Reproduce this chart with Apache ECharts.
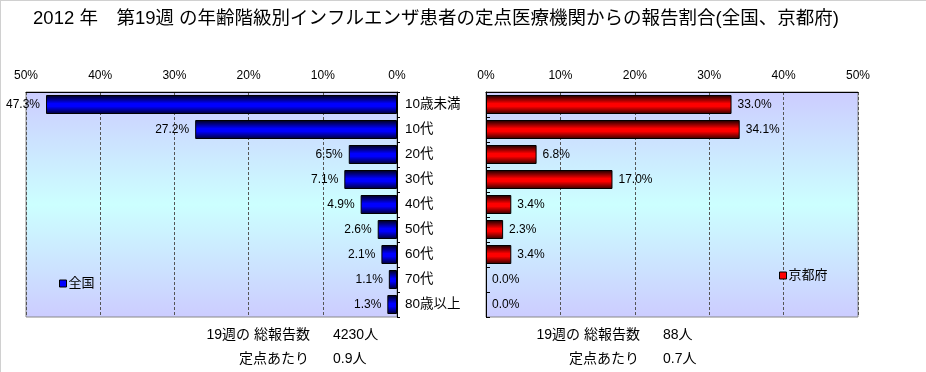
<!DOCTYPE html>
<html>
<head>
<meta charset="utf-8">
<script src="https://cdn.jsdelivr.net/npm/echarts@6/dist/echarts.min.js"></script>
<style>
html,body{margin:0;padding:0;background:#fff;}
#chart{width:926px;height:372px;}
</style>
</head>
<body>
<div id="chart"></div>
<script>
const categories = ['10歳未満','10代','20代','30代','40代','50代','60代','70代','80歳以上'];
const nationalValues = [47.3, 27.2, 6.5, 7.1, 4.9, 2.6, 2.1, 1.1, 1.3];
const kyotoValues = [33.0, 34.1, 6.8, 17.0, 3.4, 2.3, 3.4, 0.0, 0.0];
const axisTicks = [0, 10, 20, 30, 40, 50];
const titleText = '2012 年　第19週 の年齢階級別インフルエンザ患者の定点医療機関からの報告割合(全国、京都府)';
const nationalTotal = '4230人';
const nationalPerSite = '0.9人';
const kyotoTotal = '88人';
const kyotoPerSite = '0.7人';

const FONT = '"Liberation Sans", "Noto Sans CJK JP", sans-serif';
const chart = echarts.init(document.getElementById('chart'));

const bgGrad = new echarts.graphic.LinearGradient(0, 0, 0, 1, [
  {offset: 0, color: '#ccccff'},
  {offset: 0.5, color: '#ccffff'},
  {offset: 1, color: '#ccccff'}
]);
const blueGrad = new echarts.graphic.LinearGradient(0, 0, 0, 1, [
  {offset: 0, color: '#000010'},
  {offset: 0.45, color: '#0000ff'},
  {offset: 0.6, color: '#0000ff'},
  {offset: 1, color: '#000030'}
]);
const redGrad = new echarts.graphic.LinearGradient(0, 0, 0, 1, [
  {offset: 0, color: '#100000'},
  {offset: 0.45, color: '#ff0000'},
  {offset: 0.6, color: '#ff0000'},
  {offset: 1, color: '#300000'}
]);

const xMin = axisTicks[0], xMax = axisTicks[axisTicks.length - 1], xInt = axisTicks[1] - axisTicks[0];

function xAxisCfg(gridIndex, inverse) {
  return {
    type: 'value', gridIndex, position: 'top', inverse,
    min: xMin, max: xMax, interval: xInt,
    axisLine: {show: true, lineStyle: {color: '#000', width: 1}},
    axisTick: {show: false},
    axisLabel: {formatter: '{value}%', color: '#000', fontSize: 12, fontFamily: FONT, margin: 10},
    splitLine: {show: true, lineStyle: {color: '#555', type: [3, 2], width: 1}}
  };
}

function toData(values) {
  return values.map(v => v === 0 ? {value: v, itemStyle: {borderWidth: 0}} : v);
}

const option = {
  animation: false,
  backgroundColor: '#fff',
  title: {
    text: titleText, left: 431, textAlign: 'center', top: 5,
    textStyle: {fontSize: 18.5, fontWeight: 'normal', color: '#000', fontFamily: FONT}
  },
  legend: [
    {data: [{name: '全国', itemStyle: {color: '#0000ff', borderColor: '#000', borderWidth: 1}}],
     left: 54, top: 272, itemWidth: 7, itemHeight: 7, itemGap: 2, icon: 'rect',
     textStyle: {fontSize: 13, color: '#000', fontFamily: FONT, padding: [0,0,0,-3]}},
    {data: [{name: '京都府', itemStyle: {color: '#ff0000', borderColor: '#000', borderWidth: 1}}],
     left: 774, top: 264, itemWidth: 7, itemHeight: 7, itemGap: 2, icon: 'rect',
     textStyle: {fontSize: 13, color: '#000', fontFamily: FONT, padding: [0,0,0,-3]}}
  ],
  grid: [
    {left: 26, top: 92, width: 371, height: 225, show: true, backgroundColor: bgGrad, borderColor: '#888', borderWidth: 1, containLabel: false},
    {left: 486, top: 92, width: 372, height: 225, show: true, backgroundColor: bgGrad, borderColor: '#888', borderWidth: 1, containLabel: false}
  ],
  xAxis: [xAxisCfg(0, true), xAxisCfg(1, false)],
  yAxis: [
    {type: 'category', gridIndex: 0, data: categories, inverse: true, position: 'right',
     axisLine: {show: true, lineStyle: {color: '#000'}},
     axisTick: {show: true, length: 3, lineStyle: {color: '#000'}},
     axisLabel: {show: true, color: '#000', fontSize: 13.5, fontFamily: FONT, margin: 8, align: 'left'},
     splitLine: {show: false}},
    {type: 'category', gridIndex: 1, data: categories, inverse: true, position: 'left',
     axisLine: {show: true, lineStyle: {color: '#000'}},
     axisTick: {show: true, inside: true, length: 4, lineStyle: {color: '#000'}},
     axisLabel: {show: false},
     splitLine: {show: false}}
  ],
  series: [
    {name: '全国', type: 'bar', xAxisIndex: 0, yAxisIndex: 0, data: toData(nationalValues),
     barCategoryGap: '24%',
     itemStyle: {color: blueGrad, borderColor: '#000', borderWidth: 1},
     label: {show: true, position: 'left', distance: 6, color: '#000', fontSize: 12, fontFamily: FONT,
       formatter: p => p.value.toFixed(1) + '%'}},
    {name: '京都府', type: 'bar', xAxisIndex: 1, yAxisIndex: 1, data: toData(kyotoValues),
     barCategoryGap: '24%',
     itemStyle: {color: redGrad, borderColor: '#000', borderWidth: 1},
     label: {show: true, position: 'right', distance: 6, color: '#000', fontSize: 12, fontFamily: FONT,
       formatter: p => p.value.toFixed(1) + '%'}}
  ],
  graphic: [
    {type: 'line', shape: {x1: 0, y1: 0.5, x2: 926, y2: 0.5}, style: {stroke: '#d0d0d0', lineWidth: 1}},
    {type: 'line', shape: {x1: 0.5, y1: 0, x2: 0.5, y2: 372}, style: {stroke: '#d0d0d0', lineWidth: 1}},
    {type: 'text', x: 310, y: 335, style: {text: '19週の 総報告数', align: 'right', verticalAlign: 'middle', fill: '#000', font: '14px ' + FONT}},
    {type: 'text', x: 333, y: 335, style: {text: nationalTotal, align: 'left', verticalAlign: 'middle', fill: '#000', font: '14px ' + FONT}},
    {type: 'text', x: 309, y: 359, style: {text: '定点あたり', align: 'right', verticalAlign: 'middle', fill: '#000', font: '14px ' + FONT}},
    {type: 'text', x: 333, y: 359, style: {text: nationalPerSite, align: 'left', verticalAlign: 'middle', fill: '#000', font: '14px ' + FONT}},
    {type: 'text', x: 640, y: 335, style: {text: '19週の 総報告数', align: 'right', verticalAlign: 'middle', fill: '#000', font: '14px ' + FONT}},
    {type: 'text', x: 663, y: 335, style: {text: kyotoTotal, align: 'left', verticalAlign: 'middle', fill: '#000', font: '14px ' + FONT}},
    {type: 'text', x: 639, y: 359, style: {text: '定点あたり', align: 'right', verticalAlign: 'middle', fill: '#000', font: '14px ' + FONT}},
    {type: 'text', x: 663, y: 359, style: {text: kyotoPerSite, align: 'left', verticalAlign: 'middle', fill: '#000', font: '14px ' + FONT}}
  ]
};
chart.setOption(option);
</script>
</body>
</html>
